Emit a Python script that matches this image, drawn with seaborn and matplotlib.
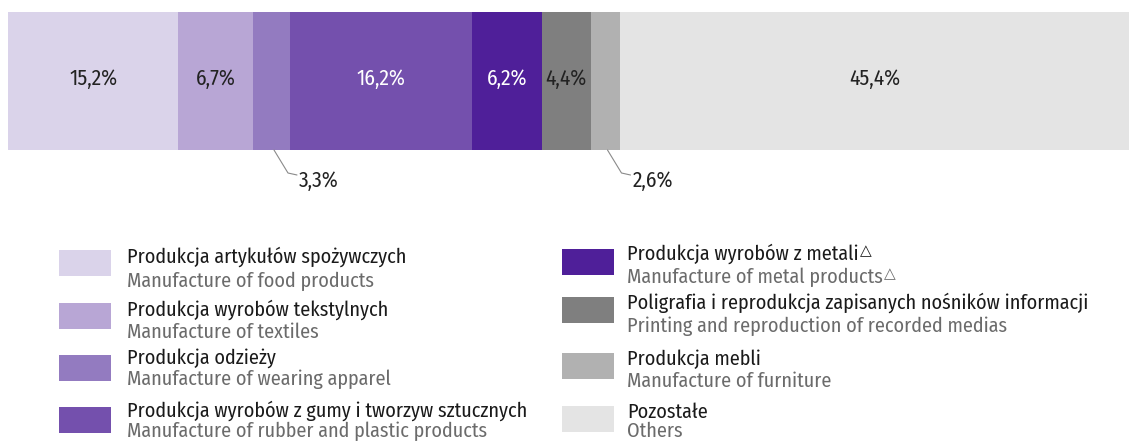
import numpy as np
import pandas as pd
import matplotlib
matplotlib.use("Agg")
import matplotlib.pyplot as plt
from matplotlib.lines import Line2D
from matplotlib.patches import Rectangle
import seaborn as sns

# Data: share by manufacturing division (%)
labels_pl = [
    "Produkcja artykułów spożywczych",
    "Produkcja wyrobów tekstylnych",
    "Produkcja odzieży",
    "Produkcja wyrobów z gumy i tworzyw sztucznych",
    "Produkcja wyrobów z metali",
    "Poligrafia i reprodukcja zapisanych nośników informacji",
    "Produkcja mebli",
    "Pozostałe",
]
labels_en = [
    "Manufacture of food products",
    "Manufacture of textiles",
    "Manufacture of wearing apparel",
    "Manufacture of rubber and plastic products",
    "Manufacture of metal products",
    "Printing and reproduction of recorded medias",
    "Manufacture of furniture",
    "Others",
]
values = [15.2, 6.7, 3.3, 16.2, 6.2, 4.4, 2.6, 45.4]
value_text = ["15,2%", "6,7%", "3,3%", "16,2%", "6,2%", "4,4%", "2,6%", "45,4%"]
flagged = [False, False, False, False, True, False, False, False]  # marked with △
colors = ["#DAD3EA", "#B8A6D5", "#937BC0", "#7450AD", "#4F1F99", "#7F7F7F", "#B1B1B1", "#E4E4E4"]
label_colors = ["#222222", "#222222", None, "white", "white", "#222222", None, "#222222"]

df = pd.DataFrame({"name": labels_pl, "value": values, "color": colors})
df["end"] = df["value"].cumsum()
df["start"] = df["end"] - df["value"]
df["mid"] = df["start"] + df["value"] / 2
df["row"] = "all"

sns.set_theme(style="white")
plt.rcParams["font.family"] = ["Fira Sans Condensed", "DejaVu Sans"]

W, H = 1129, 441
fig = plt.figure(figsize=(W / 100, H / 100), dpi=100)
fig.patch.set_facecolor("white")


def fx(px):
    return px / W


def fy(py):
    return 1 - py / H


# bar area in pixels: x 8..1129, y 11.5..150
ax = fig.add_axes([fx(8), fy(150), fx(W - 8), (150 - 11.5) / H])

# stacked bar: draw cumulative totals from the widest down
for i in range(len(df) - 1, -1, -1):
    r = df.iloc[i]
    sns.barplot(x=[r["end"]], y=[r["row"]], orient="h", color=r["color"],
                saturation=1, width=1, linewidth=0, errorbar=None, ax=ax)

ax.set_xlim(0, df["end"].iloc[-1])
ax.set_ylim(0.5, -0.5)
ax.set_axis_off()

# value labels inside the bar
for i, r in df.iterrows():
    if label_colors[i] is None:
        continue
    ax.text(r["mid"], 0.031, value_text[i], ha="center", va="baseline",
            fontsize=15.5, color=label_colors[i])

# leader lines for the two thin segments
to_fig = fig.transFigure.inverted()
for i in [2, 6]:
    r = df.iloc[i]
    x0, y0 = ax.transData.transform((r["mid"], 0.5))
    pts = np.array([[x0 + 2, y0], [x0 + 16, y0 - 23], [x0 + 25, y0 - 25]])
    pts = to_fig.transform(pts)
    fig.add_artist(Line2D(pts[:, 0], pts[:, 1], color="#8a8a8a", lw=0.8))
    fig.text(pts[2, 0] + fx(2), fy(187.5), value_text[i], ha="left", va="baseline",
             fontsize=15.5, color="#222222")

# legend, two columns
col_x = [59, 562]
text_x = [127, 627]
sw_top = [[250, 303, 355, 407], [249, 297, 353, 406]]
base_pl = [[263, 316, 364, 417], [260, 309, 365, 418]]
base_en = [[287, 338, 385, 437], [283, 332, 387, 437]]
for k in range(len(labels_pl)):
    c, j = divmod(k, 4)
    fig.add_artist(Rectangle((fx(col_x[c]), fy(sw_top[c][j] + 26)), fx(52), 26 / H,
                             transform=fig.transFigure, facecolor=colors[k], edgecolor="none"))
    t1 = fig.text(fx(text_x[c]), fy(base_pl[c][j]), labels_pl[k], ha="left", va="baseline",
                  fontsize=14.5, color="#1a1a1a")
    t2 = fig.text(fx(text_x[c]), fy(base_en[c][j]), labels_en[k], ha="left", va="baseline",
                  fontsize=14.5, color="#6b6b6b")
    if flagged[k]:
        for t, base, col in [(t1, base_pl[c][j], "#1a1a1a"), (t2, base_en[c][j], "#6b6b6b")]:
            ax.annotate("\u25B3", xy=(1, fy(base)), xycoords=(t, "figure fraction"),
                        xytext=(1, 5), textcoords="offset pixels", ha="left", va="baseline",
                        fontsize=11, color=col, family="DejaVu Sans",
                        annotation_clip=False)

fig.savefig("out.png", dpi=100, facecolor="white")
